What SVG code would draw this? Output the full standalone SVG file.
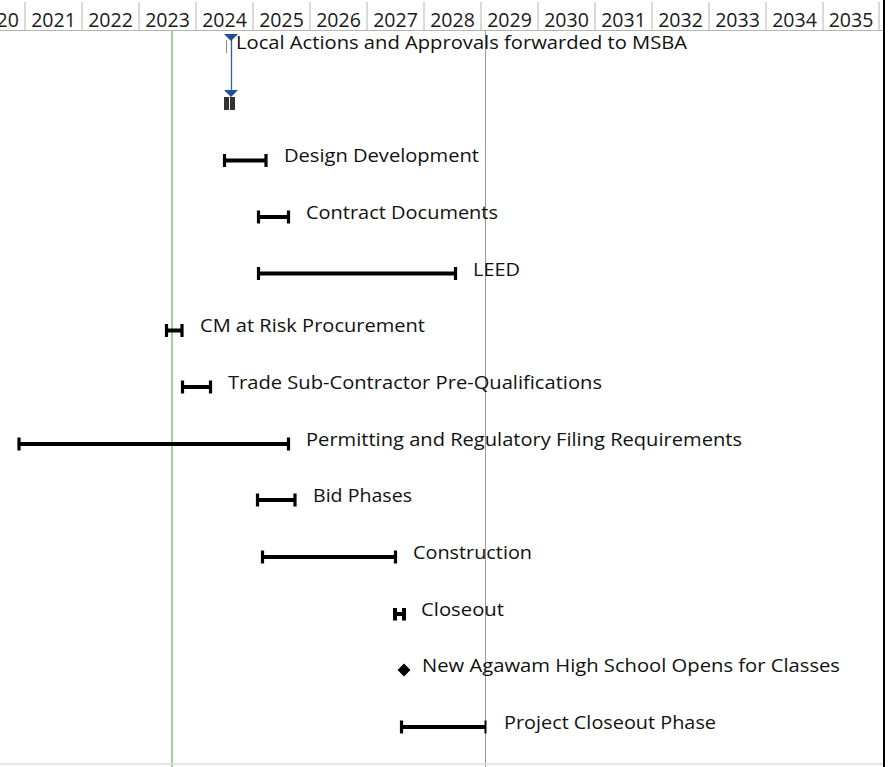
<svg xmlns="http://www.w3.org/2000/svg" width="896" height="767" viewBox="0 0 896 767">
<style>
.yr{font-family:"Open Sans","Noto Sans","DejaVu Sans",sans-serif;font-size:19.5px;fill:#1a1a1a;text-anchor:middle}
.sep{stroke:#b4b4b4;stroke-width:1}
.lbl{font-family:"Open Sans","Noto Sans","DejaVu Sans",sans-serif;font-size:18px;fill:#111}
.bar{stroke:#000;stroke-width:4;fill:none}
.cap{stroke:#000;stroke-width:3.2;fill:none}
</style>
<rect width="896" height="767" fill="#fff"/>
<g id="timescale">
<line class="sep" x1="0" y1="30.5" x2="884" y2="30.5"/>
<g>
<line class="sep" x1="25" y1="2" x2="25" y2="30"/>
<line class="sep" x1="82" y1="2" x2="82" y2="30"/>
<line class="sep" x1="139" y1="2" x2="139" y2="30"/>
<line class="sep" x1="196" y1="2" x2="196" y2="30"/>
<line class="sep" x1="253" y1="2" x2="253" y2="30"/>
<line class="sep" x1="310" y1="2" x2="310" y2="30"/>
<line class="sep" x1="367" y1="2" x2="367" y2="30"/>
<line class="sep" x1="424" y1="2" x2="424" y2="30"/>
<line class="sep" x1="481" y1="2" x2="481" y2="30"/>
<line class="sep" x1="538" y1="2" x2="538" y2="30"/>
<line class="sep" x1="595" y1="2" x2="595" y2="30"/>
<line class="sep" x1="652" y1="2" x2="652" y2="30"/>
<line class="sep" x1="709" y1="2" x2="709" y2="30"/>
<line class="sep" x1="766" y1="2" x2="766" y2="30"/>
<line class="sep" x1="823" y1="2" x2="823" y2="30"/>
<line class="sep" x1="879" y1="2" x2="879" y2="30"/>
</g>
<text class="yr" x="-3.5" y="27">2020</text>
<text class="yr" x="53.5" y="27">2021</text>
<text class="yr" x="110.5" y="27">2022</text>
<text class="yr" x="167.5" y="27">2023</text>
<text class="yr" x="224.5" y="27">2024</text>
<text class="yr" x="281.5" y="27">2025</text>
<text class="yr" x="338.5" y="27">2026</text>
<text class="yr" x="395.5" y="27">2027</text>
<text class="yr" x="452.5" y="27">2028</text>
<text class="yr" x="509.5" y="27">2029</text>
<text class="yr" x="566.5" y="27">2030</text>
<text class="yr" x="623.5" y="27">2031</text>
<text class="yr" x="680.5" y="27">2032</text>
<text class="yr" x="737.5" y="27">2033</text>
<text class="yr" x="794.5" y="27">2034</text>
<text class="yr" x="851" y="27">2035</text>
</g>
<g id="gridlines">
<line x1="172" y1="31" x2="172" y2="767" stroke="#7cc47c" stroke-width="1.5"/>
<line x1="485.5" y1="31" x2="485.5" y2="767" stroke="#9a9a9a" stroke-width="1"/>
<line x1="0" y1="764" x2="884" y2="764" stroke="#dcdcdc" stroke-width="1.5"/>
<line x1="884" y1="0" x2="884" y2="767" stroke="#000" stroke-width="2"/>
</g>
<g id="connectors">
<line x1="231.5" y1="40" x2="231.5" y2="92" stroke="#2f5fa8" stroke-width="1.3"/>
</g>
<g id="task1">
<line x1="226.5" y1="40" x2="226.5" y2="53" stroke="#888" stroke-width="1"/>
<polygon points="224,34 238,34 231,41" fill="#1f4e9c"/>
<text class="lbl" x="236" y="49" textLength="451" lengthAdjust="spacingAndGlyphs">Local Actions and Approvals forwarded to MSBA</text>
</g>
<g id="task2">
<polygon points="224,90 238,90 231,97" fill="#1f4e9c"/>
<rect x="224" y="97" width="5" height="13" fill="#333"/>
<rect x="230" y="97" width="5" height="13" fill="#333"/>
</g>
<g id="task3">
<line class="bar" x1="224" y1="160.5" x2="266" y2="160.5"/>
<line class="cap" x1="224.5" y1="154" x2="224.5" y2="167"/>
<line class="cap" x1="266" y1="154" x2="266" y2="167"/>
<text class="lbl" x="284" y="162" textLength="195" lengthAdjust="spacingAndGlyphs">Design Development</text>
</g>
<g id="task4">
<line class="bar" x1="258" y1="217" x2="289" y2="217"/>
<line class="cap" x1="258.5" y1="210.5" x2="258.5" y2="223.5"/>
<line class="cap" x1="288.5" y1="210.5" x2="288.5" y2="223.5"/>
<text class="lbl" x="306" y="219" textLength="192" lengthAdjust="spacingAndGlyphs">Contract Documents</text>
</g>
<g id="task5">
<line class="bar" x1="258" y1="273.5" x2="456" y2="273.5"/>
<line class="cap" x1="258.5" y1="267" x2="258.5" y2="280"/>
<line class="cap" x1="455.5" y1="267" x2="455.5" y2="280"/>
<text class="lbl" x="473" y="276" textLength="47" lengthAdjust="spacingAndGlyphs">LEED</text>
</g>
<g id="task6">
<line class="bar" x1="166" y1="330.5" x2="182" y2="330.5"/>
<line class="cap" x1="166.5" y1="324" x2="166.5" y2="337"/>
<line class="cap" x1="182" y1="324" x2="182" y2="337"/>
<text class="lbl" x="200" y="332" textLength="225" lengthAdjust="spacingAndGlyphs">CM at Risk Procurement</text>
</g>
<g id="task7">
<line class="bar" x1="182" y1="387" x2="211" y2="387"/>
<line class="cap" x1="182.5" y1="380.5" x2="182.5" y2="393.5"/>
<line class="cap" x1="210.5" y1="380.5" x2="210.5" y2="393.5"/>
<text class="lbl" x="228" y="389" textLength="374" lengthAdjust="spacingAndGlyphs">Trade Sub-Contractor Pre-Qualifications</text>
</g>
<g id="task8">
<line class="bar" x1="18" y1="444" x2="289" y2="444"/>
<line class="cap" x1="19" y1="437.5" x2="19" y2="450.5"/>
<line class="cap" x1="288.5" y1="437.5" x2="288.5" y2="450.5"/>
<text class="lbl" x="306" y="446" textLength="436" lengthAdjust="spacingAndGlyphs">Permitting and Regulatory Filing Requirements</text>
</g>
<g id="task9">
<line class="bar" x1="257" y1="500" x2="295" y2="500"/>
<line class="cap" x1="257.5" y1="493.5" x2="257.5" y2="506.5"/>
<line class="cap" x1="295" y1="493.5" x2="295" y2="506.5"/>
<text class="lbl" x="313" y="502" textLength="99" lengthAdjust="spacingAndGlyphs">Bid Phases</text>
</g>
<g id="task10">
<line class="bar" x1="262" y1="557" x2="396" y2="557"/>
<line class="cap" x1="262.5" y1="550.5" x2="262.5" y2="563.5"/>
<line class="cap" x1="395.5" y1="550.5" x2="395.5" y2="563.5"/>
<text class="lbl" x="413" y="559" textLength="119" lengthAdjust="spacingAndGlyphs">Construction</text>
</g>
<g id="task11">
<line class="bar" x1="394" y1="614" x2="405" y2="614"/>
<line x1="395" y1="608" x2="395" y2="620.5" stroke="#000" stroke-width="4"/>
<line x1="404" y1="608" x2="404" y2="620.5" stroke="#000" stroke-width="4"/>
<text class="lbl" x="421" y="616" textLength="83" lengthAdjust="spacingAndGlyphs">Closeout</text>
</g>
<g id="task12">
<polygon points="404,663.5 410.5,670 404,676.5 397.5,670" fill="#000"/>
<text class="lbl" x="422" y="672" textLength="418" lengthAdjust="spacingAndGlyphs">New Agawam High School Opens for Classes</text>
</g>
<g id="task13">
<line class="bar" x1="401" y1="727" x2="486" y2="727"/>
<line class="cap" x1="401.5" y1="720.5" x2="401.5" y2="733.5"/>
<line x1="485.5" y1="720.5" x2="485.5" y2="733.5" stroke="#000" stroke-width="2"/>
<text class="lbl" x="504" y="729" textLength="212" lengthAdjust="spacingAndGlyphs">Project Closeout Phase</text>
</g>
</svg>
